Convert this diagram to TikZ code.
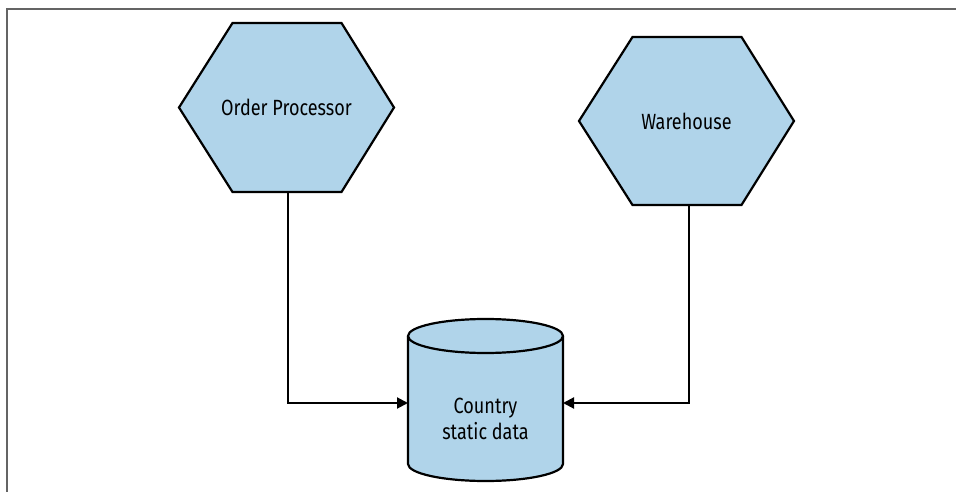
\documentclass[tikz,border=0pt]{standalone}
\usepackage{fontspec}
\setmainfont{Fira Sans}[FakeStretch=0.82]
\usetikzlibrary{arrows.meta,calc}
\definecolor{boxblue}{RGB}{176,212,234}
\definecolor{framegray}{RGB}{100,100,100}
\tikzset{
  lbl/.style={font=\fontsize{22}{26}\selectfont, text=black, align=center, inner sep=0pt},
  outline/.style={draw=black, line width=2.2pt, fill=boxblue, line join=miter},
  conn/.style={draw=black, line width=2pt, -{Triangle[length=11pt,width=11pt]}},
}
\begin{document}
\begin{tikzpicture}[x=1pt,y=-1pt]
\useasboundingbox (0,0) rectangle (956,492);
\draw[framegray, line width=2pt] (6.5,492) -- (6.5,9) -- (956,9);
% Order Processor hexagon
\coordinate (opc) at (286.5,107.5);
\draw[outline] ($(opc)+(-107.5,0)$) -- ($(opc)+(-54,-84.5)$) -- ($(opc)+(55,-84.5)$) -- ($(opc)+(107.5,0)$) -- ($(opc)+(55,84.5)$) -- ($(opc)+(-54,84.5)$) -- cycle;
\node[lbl] (op) at (opc) {Order Processor};
\coordinate (opb) at (288,192);
% Warehouse hexagon
\coordinate (whc) at (686.5,121);
\draw[outline] ($(whc)+(-107.5,0)$) -- ($(whc)+(-54,-84)$) -- ($(whc)+(55,-84)$) -- ($(whc)+(107.5,0)$) -- ($(whc)+(55,84)$) -- ($(whc)+(-54,84)$) -- cycle;
\node[lbl] (wh) at (whc) {Warehouse};
\coordinate (whb) at (689,205);
% Cylinder
\coordinate (dbc) at (485.5,336);
\draw[outline] (408,336) -- (408,464) arc[start angle=180, end angle=360, x radius=77.5, y radius=-17] -- (563,336);
\draw[outline] (dbc) ellipse[x radius=77.5, y radius=17];
\node[lbl] (db) at (485.5,419) {Country\\static data};
\coordinate (dbl) at (408,403);
\coordinate (dbr) at (563,403);
% connectors
\draw[conn] (opb) |- (dbl);
\draw[conn] (whb) |- (dbr);
\end{tikzpicture}
\end{document}
